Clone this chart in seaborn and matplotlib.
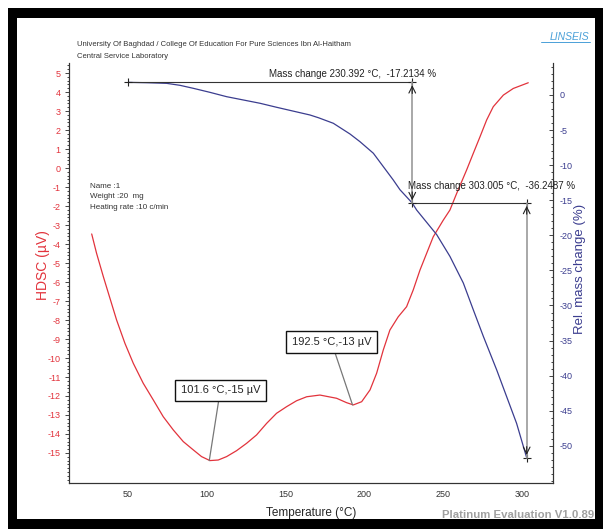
import numpy as np
import pandas as pd
import seaborn as sns
import matplotlib.pyplot as plt
from matplotlib.patches import Rectangle
from matplotlib.ticker import MultipleLocator

# DSC curve (red, left axis)
dsc_temp = [27.0, 30.1, 34.4, 38.6, 42.8, 48.1, 53.4, 59.7, 66.1, 72.4, 78.8, 85.1, 91.5, 96.7,
            102.0, 107.3, 112.6, 118.9, 125.3, 131.6, 138.0, 144.3, 150.7, 157.0, 163.4, 171.8,
            182.4, 188.7, 193.0, 198.3, 203.6, 207.8, 212.0, 216.2, 221.5, 226.8, 231.0, 235.3,
            243.7, 250.1, 254.3, 258.6, 264.9, 269.1, 273.4, 277.6, 281.8, 288.2, 294.5, 304.0]
dsc_val = [-3.47, -4.49, -5.72, -6.86, -8.0, -9.23, -10.28, -11.33, -12.21, -13.09, -13.79, -14.4,
           -14.84, -15.19, -15.4, -15.37, -15.19, -14.88, -14.49, -14.05, -13.44, -12.91, -12.56,
           -12.25, -12.04, -11.95, -12.12, -12.35, -12.47, -12.3, -11.68, -10.8, -9.58, -8.53,
           -7.83, -7.3, -6.42, -5.37, -3.62, -2.74, -2.21, -1.33, -0.1, 0.77, 1.65, 2.53, 3.23,
           3.84, 4.19, 4.49]

# TG curve (blue, right axis)
tg_temp = [50.2, 61.9, 74.6, 83.0, 91.5, 102.0, 112.6, 123.2, 133.8, 144.3, 154.9, 165.5, 171.0,
           180.3, 190.9, 197.2, 205.7, 212.0, 218.3, 222.6, 230.4, 233.2, 245.9, 254.3, 262.8,
           269.1, 275.5, 284.0, 290.3, 296.6, 303.0]
tg_val = [1.8, 1.75, 1.66, 1.38, 0.95, 0.38, -0.24, -0.71, -1.18, -1.75, -2.3, -2.85, -3.25,
          -4.03, -5.56, -6.65, -8.3, -10.2, -12.1, -13.5, -15.4, -16.4, -19.9, -23.0, -26.8,
          -30.6, -34.4, -39.2, -43.0, -46.8, -51.7]

# mass change steps
step_temp = [50.0, 230.392, 303.005]
step_mass = [1.8, -15.4, -51.7]
step_text = ["Mass change 230.392 \u00b0C,  -17.2134 %", "Mass change 303.005 \u00b0C,  -36.2487 %"]

# peak labels
peak_temp = [101.6, 192.5]
peak_val = [-15.4, -12.47]
peak_text = ["101.6 \u00b0C,-15 \u00b5V", "192.5 \u00b0C,-13 \u00b5V"]
peak_box = [(108.6, -11.7), (179.1, -9.16)]

red = "#e2333c"
blue = "#3b3d8f"

sns.set_style("white")
plt.rcParams['font.family'] = ['Liberation Sans', 'DejaVu Sans']
plt.rcParams['axes.unicode_minus'] = False

fig = plt.figure(figsize=(6.03, 5.29), dpi=100)
# black frame
fig.patches.append(Rectangle((8/603, 0), 1, (529-8)/529, transform=fig.transFigure,
                             facecolor='black', edgecolor='none', zorder=-2))
fig.patches.append(Rectangle((17/603, 10/529), (595-17)/603, (519-18)/529, transform=fig.transFigure,
                             facecolor='white', edgecolor='none', zorder=-1))

ax = fig.add_axes([69/603, 46/529, 484/603, 420/529])
ax.patch.set_alpha(0)
ax2 = ax.twinx()

dsc = pd.DataFrame({'T': dsc_temp, 'v': dsc_val})
tg = pd.DataFrame({'T': tg_temp, 'm': tg_val})
sns.lineplot(data=dsc, x='T', y='v', ax=ax, color=red, lw=0.9, sort=False)
sns.lineplot(data=tg, x='T', y='m', ax=ax2, color=blue, lw=0.9, sort=False)

ax.set_xlim(12.6, 319.7)
ax.set_ylim(-16.58, 5.53)
ax2.set_ylim(-55.3, 4.56)

ax.xaxis.set_minor_locator(MultipleLocator(10))
ax.yaxis.set_minor_locator(MultipleLocator(0.2))
ax2.yaxis.set_minor_locator(MultipleLocator(1))
ax.set_xticks([50, 100, 150, 200, 250, 300])
ax.set_yticks(range(-15, 6))
ax2.set_yticks(range(-50, 1, 5))

for a in (ax, ax2):
    a.spines['top'].set_visible(False)
    for s in a.spines.values():
        s.set_linewidth(0.8)
        s.set_color('#333333')
ax.tick_params(axis='x', which='both', direction='out', length=2, width=0.6, labelsize=6.5, pad=3, colors='#333333')
ax.tick_params(axis='y', which='major', direction='out', length=3, width=0.6, labelsize=6.5, labelcolor=red, pad=3)
ax.tick_params(axis='y', which='minor', direction='out', length=1.5, width=0.6)
ax2.tick_params(axis='y', which='major', direction='in', length=3, width=0.6, labelsize=6.5, labelcolor=blue, pad=5)
ax2.tick_params(axis='y', which='minor', direction='in', length=1.5, width=0.6)

ax.set_xlabel("Temperature (\u00b0C)", fontsize=8.5, labelpad=6)
ax.set_ylabel("HDSC (\u00b5V)", fontsize=10, color=red)
ax.yaxis.set_label_coords(-0.039, 0.52)
ax2.set_ylabel("Rel. mass change (%)", fontsize=9.5, color=blue)
ax2.yaxis.set_label_coords(1.044, 0.51)

# mass change annotations
ax2.plot([step_temp[0], step_temp[1]], [step_mass[0], step_mass[0]], color='#333333', lw=0.8)
ax2.plot([step_temp[1], step_temp[2]], [step_mass[1], step_mass[1]], color='#333333', lw=0.8)
ax2.plot([step_temp[0], step_temp[1], step_temp[1], step_temp[2], step_temp[2]],
         [step_mass[0], step_mass[0], step_mass[1], step_mass[1], step_mass[2]],
         ls='none', marker='+', color='#222222', ms=6, mew=0.8)
for i in range(2):
    xt = step_temp[i + 1]
    ytop = step_mass[i]
    ybot = step_mass[i + 1]
    ax2.plot([xt, xt], [ytop, ybot], color='#999999', lw=1.2)
    ax2.annotate('', xy=(xt, ytop), xytext=(0, -10), textcoords='offset points',
                 arrowprops=dict(arrowstyle='->', color='#222222', lw=0.8, mutation_scale=12))
    ax2.annotate('', xy=(xt, ybot), xytext=(0, 10), textcoords='offset points',
                 arrowprops=dict(arrowstyle='->', color='#222222', lw=0.8, mutation_scale=12))
ax2.text(436/603, (529-74)/529, step_text[0], transform=fig.transFigure, ha='right', va='center',
         fontsize=7, color='#222222')
ax2.text(408/603, (529-186)/529, step_text[1], transform=fig.transFigure, ha='left', va='center',
         fontsize=7, color='#222222', clip_on=False)

# peak labels
for i in range(2):
    ax.annotate(peak_text[i], xy=(peak_temp[i], peak_val[i]), xytext=peak_box[i],
                ha='center', va='center', fontsize=8,
                bbox=dict(boxstyle='square,pad=0.5', fc='white', ec='#111111', lw=1.0),
                arrowprops=dict(arrowstyle='-', color='#777777', lw=0.9, shrinkA=0, shrinkB=0))

# header texts
fig.text(77/603, (529-45)/529, "University Of Baghdad / College Of Education For Pure Sciences Ibn Al-Haitham",
         fontsize=5.5, color='#333333', va='center')
fig.text(77/603, (529-56)/529, "Central Service Laboratory", fontsize=5.5, color='#333333', va='center')
fig.text(90/603, (529-197)/529, "Name :1\nWeight :20  mg\nHeating rate :10 c/min",
         fontsize=5.8, color='#333333', va='center', linespacing=1.75)
fig.text(589/603, (529-37)/529, "LINSEIS", fontsize=7.5, color='#4aa0d8', style='italic',
         ha='right', va='center')
fig.add_artist(plt.Line2D([541/603, 590/603], [(529-42)/529, (529-42)/529], color='#4aa0d8', lw=0.7))
fig.text(594/603, (529-515)/529, "Platinum Evaluation V1.0.89", fontsize=8.2, color='#a0a0a0',
         fontweight='bold', ha='right', va='center')

fig.savefig('out.png', dpi=100)
